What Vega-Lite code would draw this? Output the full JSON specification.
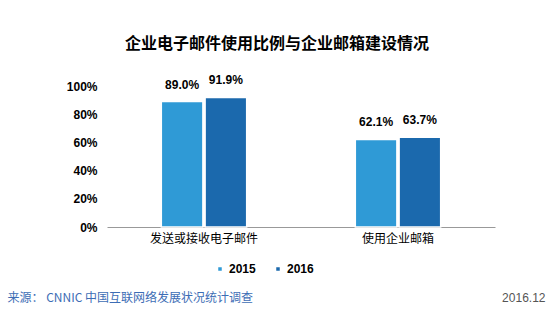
{
  "$schema": "https://vega.github.io/schema/vega-lite/v6.json",
  "width": 388,
  "height": 141,
  "autosize": {"type": "none"},
  "padding": {"left": 107, "top": 86, "right": 64, "bottom": 85},
  "background": "white",
  "config": {
    "view": {"stroke": null},
    "font": "Liberation Sans, Noto Sans CJK SC, sans-serif"
  },
  "title": {
    "text": "企业电子邮件使用比例与企业邮箱建设情况",
    "anchor": "start",
    "frame": "group",
    "dx": 18,
    "offset": 22,
    "fontSize": 16,
    "fontWeight": "bold",
    "font": "Noto Sans CJK SC",
    "color": "#000000"
  },
  "data": {
    "values": [
      {"category": "发送或接收电子邮件", "year": "2015", "value": 0.890},
      {"category": "发送或接收电子邮件", "year": "2016", "value": 0.919},
      {"category": "使用企业邮箱", "year": "2015", "value": 0.621},
      {"category": "使用企业邮箱", "year": "2016", "value": 0.637}
    ]
  },
  "encoding": {
    "x": {
      "field": "category", "type": "nominal", "sort": null,
      "scale": {"paddingInner": 0.56, "paddingOuter": 0.28},
      "axis": {
        "domainColor": "#999999", "ticks": false, "labelAngle": 0,
        "labelFontSize": 12, "labelColor": "#000000", "labelPadding": 6,
        "labelFont": "Noto Sans CJK SC",
        "title": "来源：  CNNIC   中国互联网络发展状况统计调查",
        "titleX": -100, "titleY": 70, "titleAlign": "left", "titleBaseline": "middle",
        "titleFontSize": 12, "titleFontWeight": "normal", "titleColor": "#3d6db5",
        "titleFont": "Noto Sans CJK SC"
      }
    },
    "xOffset": {"field": "year", "type": "nominal", "scale": {"paddingInner": 0.05}},
    "y": {
      "field": "value", "type": "quantitative",
      "scale": {"domain": [0, 1], "nice": false},
      "axis": {
        "values": [-0.39, 0, 0.2, 0.4, 0.6, 0.8, 1],
        "format": ".0%", "labelOverlap": false,
        "labelExpr": "datum.value < 0 ? '' : datum.label",
        "domain": false, "ticks": false,
        "grid": true, "gridColor": "#a0a0a0", "gridWidth": 1.5,
        "gridOpacity": {"condition": {"test": "datum.value < 0", "value": 1}, "value": 0},
        "labelFontWeight": "bold", "labelFontSize": 12, "labelColor": "#000000", "labelPadding": 10,
        "title": "2016.12", "titleAngle": 0, "titleX": 438, "titleY": 211,
        "titleAlign": "right", "titleBaseline": "middle",
        "titleFontWeight": "normal", "titleFontSize": 12, "titleColor": "#555555"
      }
    }
  },
  "layer": [
    {
      "mark": {"type": "bar", "stroke": "white", "strokeWidth": 1.5},
      "encoding": {
        "color": {
          "field": "year", "type": "nominal",
          "scale": {"domain": ["2015", "2016"], "range": ["#2f9ad6", "#1b69ad"]},
          "legend": {
            "orient": "none", "legendX": 107, "legendY": 177, "direction": "horizontal",
            "title": null, "symbolType": "square", "symbolSize": 25,
            "labelFontWeight": "bold", "labelFontSize": 12, "labelColor": "#000000",
            "columnPadding": 16, "labelOffset": 3
          }
        }
      }
    },
    {
      "mark": {"type": "text", "baseline": "bottom", "dy": -10, "fontWeight": "bold", "fontSize": 12, "color": "#000000"},
      "encoding": {
        "text": {"field": "value", "type": "quantitative", "format": ".1%"}
      }
    }
  ]
}
